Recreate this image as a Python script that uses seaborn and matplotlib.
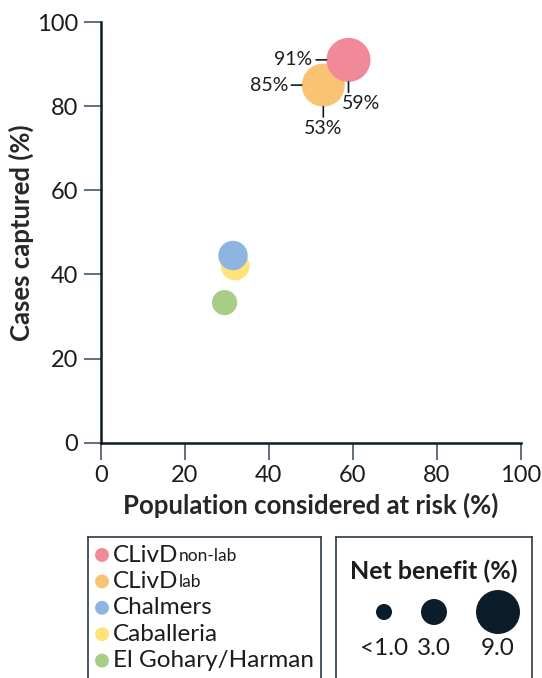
import numpy as np
import pandas as pd
import matplotlib
matplotlib.use("Agg")
import matplotlib.pyplot as plt
import seaborn as sns

# data
models = ["CLivD non-lab", "CLivD lab", "Chalmers", "Caballeria", "El Gohary/Harman"]
legend_main = ["CLivD", "CLivD", "Chalmers", "Caballeria", "El Gohary/Harman"]
legend_sub = ["non-lab", "lab", "", "", ""]
population = [59, 53, 31.5, 32, 29.5]
captured = [91, 85, 44.5, 42, 33.3]
net_benefit = [9.0, 8.6, 3.9, 3.7, 2.8]
colors = ["#F08A99", "#F9C374", "#8EB4E2", "#FFE27A", "#A8CD86"]
labelled = ["CLivD non-lab", "CLivD lab"]
legend_sizes = [1.0, 3.0, 9.0]
legend_size_labels = ["<1.0", "3.0", "9.0"]
x_ticks = [0, 20, 40, 60, 80, 100]
y_ticks = [0, 20, 40, 60, 80, 100]

size_range = (133, 1003)
size_norm = (1, 9)

navy = "#0b1d2b"
tick_col = "#34495e"
text_col = "#1c1c1c"


def area(v):
    return size_range[0] + (v - size_norm[0]) / (size_norm[1] - size_norm[0]) * (size_range[1] - size_range[0])


sns.set_style("ticks")
plt.rcParams["font.family"] = ["Lato", "DejaVu Sans"]
plt.rcParams["text.color"] = text_col

df = pd.DataFrame({"model": models, "pop": population, "cap": captured, "nb": net_benefit})

fig = plt.figure(figsize=(5.42, 6.78), dpi=100)
W, H = 542, 678
ax = fig.add_axes([100.7 / W, 1 - 442.7 / H, 420 / W, 420.7 / H])

# later rows first so the first entries sit on top
sns.scatterplot(data=df.iloc[::-1], x="pop", y="cap", hue="model",
                palette=dict(zip(models, colors)), size="nb", sizes=size_range,
                size_norm=size_norm, linewidth=0, alpha=1, legend=False, ax=ax,
                clip_on=False, zorder=3)

ax.set_xlim(0, 100)
ax.set_ylim(0, 100)
ax.set_xticks(x_ticks)
ax.set_yticks(y_ticks)
ax.tick_params(length=12, width=1.1, color=tick_col, pad=4, labelsize=17, labelcolor=text_col)
for s in ["left", "bottom"]:
    ax.spines[s].set_linewidth(1.8)
    ax.spines[s].set_color(navy)
for s in ["top", "right"]:
    ax.spines[s].set_visible(False)
ax.set_xlabel("Population considered at risk (%)", fontsize=18.5, fontweight="bold", labelpad=5)
ax.set_ylabel("Cases captured (%)", fontsize=18.5, fontweight="bold", labelpad=2)

# leader lines and value labels
for _, row in df[df["model"].isin(labelled)].iterrows():
    r = np.sqrt(area(row["nb"])) / 2
    xy = (row["pop"], row["cap"])
    # horizontal: cases captured
    ax.annotate("", xy=xy, xytext=(-r - 7.5, 0), textcoords="offset points",
                arrowprops=dict(arrowstyle="-", color=navy, lw=1.2, shrinkA=0, shrinkB=r), zorder=4)
    ax.annotate(f"{row['cap']:.0f}%", xy=xy, xytext=(-r - 10, 0), textcoords="offset points",
                ha="right", va="center", fontsize=14, zorder=4)
    # vertical: population
    ax.annotate("", xy=xy, xytext=(0, -r - 7.5), textcoords="offset points",
                arrowprops=dict(arrowstyle="-", color=navy, lw=1.2, shrinkA=0, shrinkB=r), zorder=4)
    dx = 9 if row["model"] == labelled[0] else 0
    ax.annotate(f"{row['pop']:.0f}%", xy=xy, xytext=(dx, -r - 9.5), textcoords="offset points",
                ha="center", va="top", fontsize=14, zorder=4)

# legend 1: models
lax = fig.add_axes([88 / W, -30 / H, (321 - 88) / W, (678 + 30 - 537) / H])
lax.set_xlim(88, 321)
lax.set_ylim(708, 537)
lax.set_xticks([])
lax.set_yticks([])
for s in lax.spines.values():
    s.set_color("#2b3a47")
    s.set_linewidth(1.2)
row_y = 555 + 26.4 * np.arange(len(models))
lax.scatter([102] * len(models), row_y, s=100, c=colors, linewidths=0, clip_on=False)
for yy, main, sub in zip(row_y, legend_main, legend_sub):
    t = lax.text(113, yy, main, fontsize=17.5, va="center", ha="left")
    if sub:
        lax.annotate(sub, xy=(1, 0.08), xycoords=t, fontsize=12.5, va="bottom", ha="left")

# legend 2: net benefit sizes
sax = fig.add_axes([336 / W, -30 / H, (532 - 336) / W, (678 + 30 - 537) / H])
sax.set_xlim(336, 532)
sax.set_ylim(708, 537)
sax.set_xticks([])
sax.set_yticks([])
for s in sax.spines.values():
    s.set_color("#2b3a47")
    s.set_linewidth(1.2)
sax.text(434, 571, "Net benefit (%)", fontsize=18, fontweight="bold", ha="center", va="center")
cx = [384, 434, 498]
sax.scatter(cx, [612] * 3, s=[area(v) for v in legend_sizes], c=navy, linewidths=0)
for x, lab in zip(cx, legend_size_labels):
    sax.text(x, 648, lab, fontsize=17.5, ha="center", va="center")

fig.savefig("out.png", dpi=100)
